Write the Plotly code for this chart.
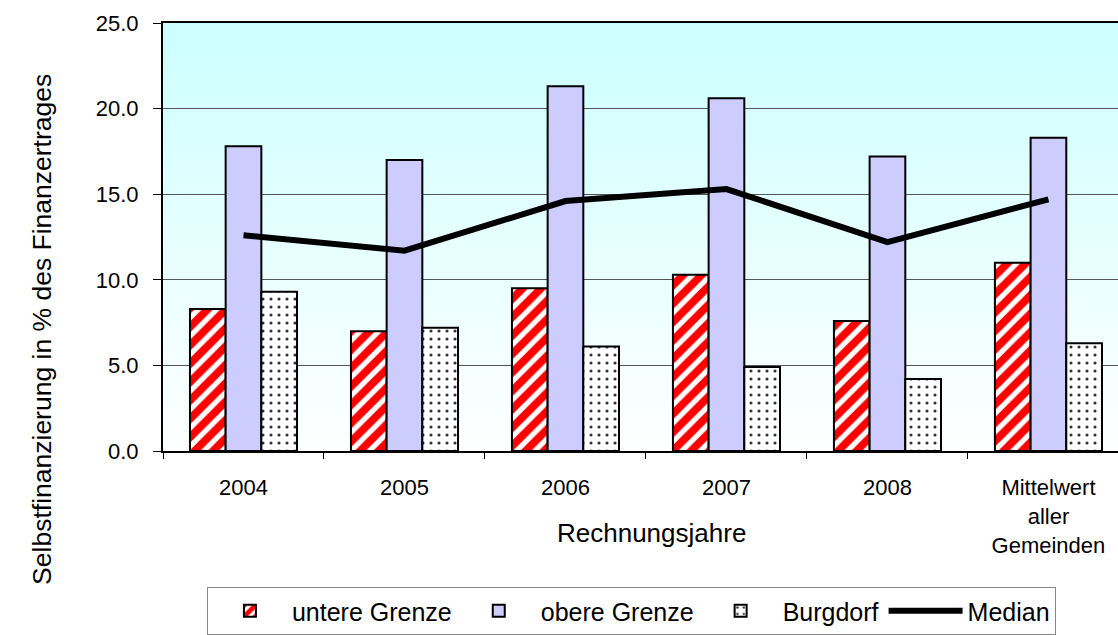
import base64
import plotly.graph_objects as go

# Categories and series values (percent of financial revenue)
categories = ["2004", "2005", "2006", "2007", "2008", "Mittelwert<br>aller<br>Gemeinden"]
untere_grenze = [8.3, 7.0, 9.5, 10.3, 7.6, 11.0]
obere_grenze = [17.8, 17.0, 21.3, 20.6, 17.2, 18.3]
burgdorf = [9.3, 7.2, 6.1, 4.9, 4.2, 6.3]
median = [12.6, 11.7, 14.6, 15.3, 12.2, 14.7]
y_ticks = [0, 5, 10, 15, 20, 25]

FONT = "Liberation Sans, Arial, sans-serif"

fig = go.Figure()

fig.add_bar(
    name="untere Grenze", x=categories, y=untere_grenze,
    marker=dict(color="white",
                pattern=dict(shape="/", fgcolor="#FF0000", bgcolor="white",
                             fgopacity=1, size=13, solidity=0.6),
                line=dict(color="black", width=2)),
)
fig.add_bar(
    name="obere Grenze", x=categories, y=obere_grenze,
    marker=dict(color="#CCCCFF", line=dict(color="black", width=2)),
)
fig.add_bar(
    name="Burgdorf", x=categories, y=burgdorf,
    marker=dict(color="white",
                pattern=dict(shape=".", fgcolor="#333333", bgcolor="white",
                             fgopacity=1, size=8, solidity=0.12),
                line=dict(color="black", width=2)),
)
fig.add_scatter(
    name="Median", x=categories, y=median, mode="lines",
    line=dict(color="black", width=6),
)

# Vertical cyan-to-white gradient behind the plot area
svg = (
    '<svg xmlns="http://www.w3.org/2000/svg" width="100" height="100" '
    'preserveAspectRatio="none"><defs><linearGradient id="g" x1="0" y1="0" '
    'x2="0" y2="1"><stop offset="0" stop-color="#CCFFFF"/>'
    '<stop offset="1" stop-color="#FFFFFF"/></linearGradient></defs>'
    '<rect width="100" height="100" fill="url(#g)"/></svg>'
)
bg_src = "data:image/svg+xml;base64," + base64.b64encode(svg.encode()).decode()

fig.update_layout(
    width=1118, height=635,
    margin=dict(l=163, r=0, t=23, b=181),
    paper_bgcolor="white",
    plot_bgcolor="rgba(0,0,0,0)",
    font=dict(family=FONT, size=22, color="black"),
    barmode="group", bargap=0.335, bargroupgap=0,
    images=[dict(source=bg_src, xref="paper", yref="paper", x=0, y=1,
                 sizex=1, sizey=1, sizing="stretch", xanchor="left",
                 yanchor="top", layer="below")],
    xaxis=dict(
        type="category", range=[-0.5, 5.432],
        showline=True, linecolor="black", linewidth=2, mirror=True,
        ticks="outside", tickson="boundaries", ticklen=6, tickcolor="black",
        tickfont=dict(size=22), ticklabelstandoff=16,
        showgrid=False,
    ),
    yaxis=dict(
        range=[0, 25], tickvals=y_ticks, tickformat=".1f",
        showline=True, linecolor="black", linewidth=2,
        ticks="outside", ticklen=8, tickcolor="black",
        tickfont=dict(size=22), ticklabelstandoff=10,
        showgrid=True, gridcolor="#555555", gridwidth=1, zeroline=False,
    ),
    legend=dict(
        orientation="h", x=0.046, y=-0.318, xanchor="left", yanchor="top",
        bordercolor="#888888", borderwidth=1, bgcolor="white",
        font=dict(size=25), itemwidth=74,
    ),
    annotations=[
        dict(text="Rechnungsjahre", xref="paper", yref="paper",
             x=0.511, y=-0.1926, xanchor="center", yanchor="middle",
             showarrow=False, font=dict(size=26)),
        dict(text="Selbstfinanzierung in % des Finanzertrages",
             xref="paper", yref="paper", x=-0.1267, y=0.283,
             xanchor="center", yanchor="middle", textangle=-90,
             showarrow=False, font=dict(size=26.5)),
    ],
)

fig.write_html("out.html")
